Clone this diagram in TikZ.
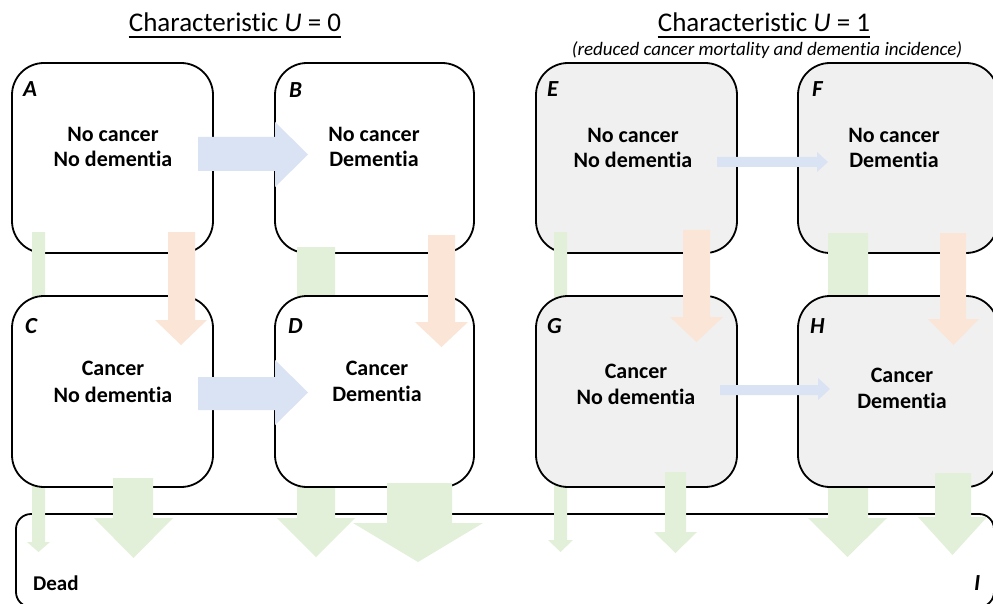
\documentclass[tikz,border=0pt]{standalone}
\usepackage{fontspec}
\setmainfont{Carlito}[Ligatures={NoCommon}]
\usetikzlibrary{calc}
\definecolor{grayfill}{HTML}{F0F0F0}
\definecolor{arrgreen}{HTML}{E2F0D9}
\definecolor{arrorange}{HTML}{FBE5D6}
\definecolor{arrblue}{HTML}{DAE3F3}
% down block arrow: color, shaft x1, shaft x2, top, head x1, head x2, head top, tip
\newcommand\blkdown[8]{\fill[#1] (#2,#4) -- (#3,#4) -- (#3,#7) -- (#6,#7) -- ({(#5+#6)/2},#8) -- (#5,#7) -- (#2,#7) -- cycle;}
% right block arrow: color, start x, head x, tip x, shaft y1, shaft y2, head y1, head y2
\newcommand\blkright[8]{\fill[#1] (#2,#5) -- (#3,#5) -- (#3,#7) -- (#4,{(#7+#8)/2}) -- (#3,#8) -- (#3,#6) -- (#2,#6) -- cycle;}
\begin{document}
\begin{tikzpicture}[x=1pt,y=-1pt,
  statebox/.style={draw=black, line width=1.8pt, rounded corners=32pt, inner sep=0pt, fill=white},
  graybox/.style={statebox, fill=grayfill},
  boxtext/.style={font=\fontsize{22}{25}\selectfont\bfseries, anchor=base, inner sep=0pt},
  boxlabel/.style={font=\fontsize{23}{25}\selectfont\bfseries\itshape, anchor=base west, inner sep=0pt},
  titletext/.style={font=\fontsize{27}{30}\selectfont, anchor=base, inner sep=0pt}]
\useasboundingbox (0,0) rectangle (993,604);
\clip (0,0) rectangle (993,604);

% Titles
\node[titletext] (t0) at (235,32) {Characteristic \textit{U} = 0};
\draw[line width=1.5pt] ($(t0.base west)+(0,5)$) -- ($(t0.base east)+(0,5)$);
\node[titletext] (t1) at (764,32) {Characteristic \textit{U} = 1};
\draw[line width=1.5pt] ($(t1.base west)+(0,5)$) -- ($(t1.base east)+(0,5)$);
\node[font=\fontsize{19}{21}\selectfont\itshape, anchor=base, inner sep=0pt] (sub) at (767,56) {(reduced cancer mortality and dementia incidence)};

% Dead box
\node[statebox, rounded corners=15pt, minimum width=978pt, minimum height=93pt] (I) at (505,560.5) {};

% top row boxes
\node[statebox, minimum width=201pt, minimum height=190pt] (A) at (112.5,158) {};
\node[statebox, minimum width=199pt, minimum height=190pt] (B) at (374.5,158) {};
\node[graybox, minimum width=201pt, minimum height=190pt] (E) at (636.5,158) {};
\node[graybox, minimum width=200pt, minimum height=190pt] (F) at (898,158) {};

% long green arrows (top row to Dead)
\blkdown{arrgreen}{32}{45}{232}{27}{50}{542}{552}
\blkdown{arrgreen}{297}{335}{247}{277}{355}{518}{557}
\blkdown{arrgreen}{554}{567}{232}{548}{573}{540}{552}
\blkdown{arrgreen}{828}{868}{233}{808}{887}{518}{557}

% bottom row boxes
\node[statebox, minimum width=201pt, minimum height=191pt] (C) at (112.5,391.5) {};
\node[statebox, minimum width=199pt, minimum height=191pt] (D) at (374.5,391.5) {};
\node[graybox, minimum width=201pt, minimum height=191pt] (G) at (636.5,391.5) {};
\node[graybox, minimum width=200pt, minimum height=191pt] (H) at (898,391.5) {};

% green arrows (bottom row to Dead)
\blkdown{arrgreen}{113}{153}{478}{94}{173}{518}{558}
\blkdown{arrgreen}{387}{452}{483}{353}{483}{523}{562}
\blkdown{arrgreen}{665}{686}{472}{654}{697}{532}{553}
\blkdown{arrgreen}{935}{971}{473}{918}{987}{517}{555}

% orange arrows (cancer incidence)
\blkdown{arrorange}{168}{195}{232}{155}{207}{320}{345}
\blkdown{arrorange}{428}{455}{235}{415}{468}{322}{347}
\blkdown{arrorange}{683}{710}{230}{670}{723}{317}{342}
\blkdown{arrorange}{940}{966}{233}{928}{979}{319}{345}

% blue arrows (dementia incidence)
\blkright{arrblue}{198}{275}{308}{137}{171}{122}{187}
\blkright{arrblue}{198}{275}{308}{377}{410}{360}{425}
\blkright{arrblue}{717}{817}{828}{157}{167}{152}{172}
\blkright{arrblue}{720}{818}{830}{385}{395}{378}{400}

% box labels
\node[boxlabel] (lA) at (23,97) {A};
\node[boxlabel] (lB) at (289,98) {B};
\node[boxlabel] (lC) at (25,333) {C};
\node[boxlabel] (lD) at (288,333) {D};
\node[boxlabel] (lE) at (547,97) {E};
\node[boxlabel] (lF) at (812,97) {F};
\node[boxlabel] (lG) at (547,333) {G};
\node[boxlabel] (lH) at (810,333) {H};
\node[boxlabel] (lI) at (974,590) {I};
\node[font=\fontsize{21}{24}\selectfont\bfseries, anchor=base west, inner sep=0pt] (dead) at (33,590) {Dead};

% box texts
\node[boxtext] (a1) at (113,142) {No cancer};
\node[boxtext] (a2) at (113,167) {No dementia};
\node[boxtext] (b1) at (374,142) {No cancer};
\node[boxtext] (b2) at (374,167) {Dementia};
\node[boxtext] (c1) at (113,375) {Cancer};
\node[boxtext] (c2) at (113,402) {No dementia};
\node[boxtext] (d1) at (377,375) {Cancer};
\node[boxtext] (d2) at (377,401) {Dementia};
\node[boxtext] (e1) at (633,143) {No cancer};
\node[boxtext] (e2) at (633,168) {No dementia};
\node[boxtext] (f1) at (894,143) {No cancer};
\node[boxtext] (f2) at (894,168) {Dementia};
\node[boxtext] (g1) at (636,378) {Cancer};
\node[boxtext] (g2) at (636,404) {No dementia};
\node[boxtext] (h1) at (902,382) {Cancer};
\node[boxtext] (h2) at (902,408) {Dementia};
\end{tikzpicture}
\end{document}
